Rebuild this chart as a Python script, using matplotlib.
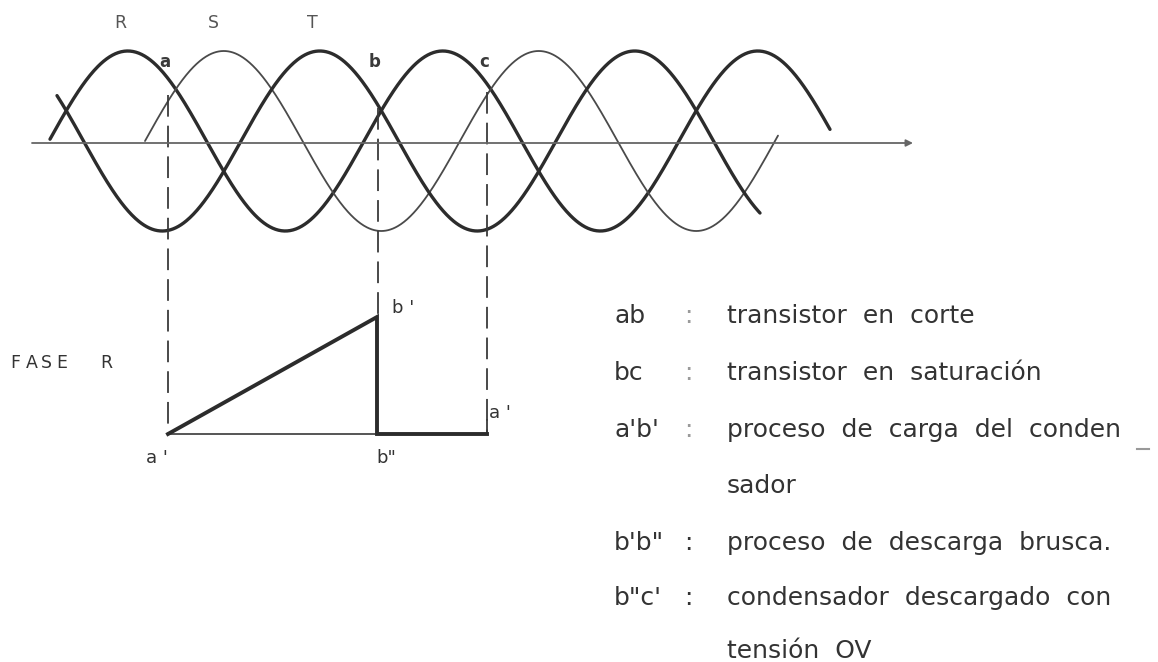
import matplotlib
matplotlib.use("Agg")
import matplotlib.pyplot as plt
import numpy as np

# three-phase waves, all in picture pixels (x right, y down)
PHASES = ["R", "S", "T"]
PERIOD = 315
AMPLITUDE = 90
CENTER_Y = 141
zero_up_x = [49, 145, -74]     # where each phase crosses zero going up
wave_start = [50, 145, 57]
wave_end = [830, 778, 760]
phase_label_x = [120, 213, 312]

AXIS_Y = 143
AXIS_X = [32, 913]

# crossing points a, b, c and the projection lines
cross_names = ["a", "b", "c"]
cross_x = [168, 378, 487]
cross_y = [95, 108, 92]

# capacitor voltage, phase R
saw_x = [168, 377, 377, 487]
saw_y = [434, 317, 434, 434]
BASE_Y = 434

legend_keys = ["ab", "bc", "a'b'", "", "b'b\"", "b\"c'", ""]
legend_text = [
    "transistor  en  corte",
    "transistor  en  saturación",
    "proceso  de  carga  del  conden",
    "sador",
    "proceso  de  descarga  brusca.",
    "condensador  descargado  con",
    "tensión  OV",
]
legend_baseline = [323, 380, 437, 493, 550, 605, 658]

DARK = "#2c2c2c"
MID = "#555555"
line_widths = {"R": 2.4, "S": 1.3, "T": 2.4}
line_colors = {"R": DARK, "S": "#4a4a4a", "T": DARK}

fig = plt.figure(figsize=(11.58, 6.62), dpi=100)
ax = fig.add_axes([0, 0, 1, 1])
ax.set_xlim(0, 1158)
ax.set_ylim(662, 0)
ax.axis("off")

# time axis with arrow
ax.annotate("", xy=(AXIS_X[1], AXIS_Y), xytext=(AXIS_X[0], AXIS_Y),
            arrowprops=dict(arrowstyle="-|>", color="#666666", lw=1.3,
                            mutation_scale=10, shrinkA=0, shrinkB=0))

for name, x0, xs, xe in zip(PHASES, zero_up_x, wave_start, wave_end):
    x = np.linspace(xs, xe, 800)
    y = CENTER_Y - AMPLITUDE * np.sin(2 * np.pi * (x - x0) / PERIOD)
    ax.plot(x, y, color=line_colors[name], lw=line_widths[name],
            solid_capstyle="round")

for name, lx in zip(PHASES, phase_label_x):
    ax.text(lx, 23, name, fontsize=12.5, color=MID, ha="center", va="center")

for name, cx, cy in zip(cross_names, cross_x, cross_y):
    ax.text(cx - 3, 62, name, fontsize=12, color="#3a3a3a", ha="center",
            va="center", fontweight="semibold")

# dashed projection lines
dash_bottom = [BASE_Y, saw_y[1], BASE_Y]
for cx, cy, yb in zip(cross_x, cross_y, dash_bottom):
    ax.plot([cx, cx], [cy, yb], color="#3a3a3a", lw=1.3,
            linestyle=(0, (12, 5)))
ax.plot([cross_x[2], cross_x[2]], [420, BASE_Y], color="#3a3a3a", lw=1.3)

# sawtooth
ax.plot([saw_x[0], saw_x[1]], [BASE_Y, BASE_Y], color="#555555", lw=1.4)
ax.plot(saw_x, saw_y, color=DARK, lw=2.8, solid_joinstyle="miter")

for i, ch in enumerate("FASE"):
    ax.text(10 + i * 15.5, 368, ch, fontsize=12.5, color="#333333",
            va="baseline")
ax.text(100, 368, "R", fontsize=12.5, color="#333333", va="baseline")

small = dict(fontsize=13, color="#333333", va="baseline")
ax.text(146, 463, "a '", **small)
ax.text(376, 463, "b\"", **small)
ax.text(392, 313, "b '", **small)
ax.text(489, 418, "a '", **small)

# notes on the right
for key, txt, yb in zip(legend_keys, legend_text, legend_baseline):
    if key:
        ax.text(614, yb, key, fontsize=18, color="#333333", va="baseline")
        faint = key in ("ab", "bc", "a'b'")
        ax.text(684, yb, ":", fontsize=18, va="baseline",
                color="#9a9a9a" if faint else "#333333")
    ax.text(727, yb, txt, fontsize=18, color="#333333", va="baseline")
ax.plot([1137, 1149], [449, 449], color="#999999", lw=1.5)

fig.savefig("out.png", dpi=100)
